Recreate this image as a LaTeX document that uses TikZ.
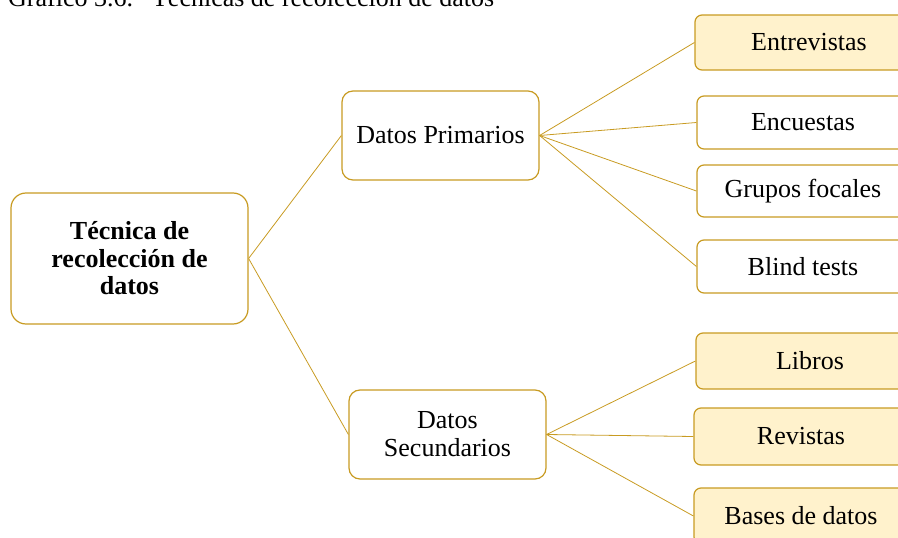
\documentclass[tikz,border=0pt]{standalone}
\usepackage{fontspec}
\setmainfont{Liberation Serif}
\usepackage{tikz}
\definecolor{GOLD}{HTML}{C89B22}
\definecolor{CREAM}{HTML}{FFF2CC}
\tikzstyle{rootbox} = [rectangle, rounded corners=15pt, minimum width=237pt, minimum height=131pt, text centered, align=center, draw=GOLD, line width=1.2pt, fill=white, font=\fontsize{26}{27.5}\selectfont\bfseries]
\tikzstyle{midbox} = [rectangle, rounded corners=11pt, minimum width=197pt, minimum height=89pt, text centered, align=center, draw=GOLD, line width=1.2pt, fill=white, font=\fontsize{26}{28}\selectfont]
\tikzstyle{leafbox} = [rectangle, rounded corners=7pt, minimum width=212pt, minimum height=53pt, text centered, draw=GOLD, line width=1.2pt, fill=white, font=\fontsize{26}{28}\selectfont]
\tikzstyle{leaffill} = [leafbox, fill=CREAM]
\tikzstyle{link} = [draw=GOLD, line width=0.8pt]
\begin{document}
\begin{tikzpicture}[x=1pt, y=-1pt, node distance=300pt]
\useasboundingbox (0,0) rectangle (898,538);
\clip (0,0) rectangle (898,538);

% caption, cut off at the top
\node (caption) [anchor=base west, inner sep=0pt, font=\fontsize{26}{28}\selectfont] at (8,6) {Gráfico 3.6.\hspace{19pt}Técnicas de recolección de datos};

\node (tec) [rootbox] at (129.5,258.5) {Técnica de\\recolección de\\datos};

\node (dat1) [midbox, right of=tec, xshift=11pt, yshift=123pt] {Datos Primarios};
\node (dat2) [midbox, right of=tec, xshift=18pt, yshift=-176pt] {Datos\\Secundarios};

% primary sources
\node (out1) [leaffill, minimum width=228pt, minimum height=55pt, right of=dat1, xshift=68.5pt, yshift=93pt] {Entrevistas};
\node (out2) [leafbox, right of=dat1, xshift=62.5pt, yshift=13pt] {Encuestas};
\node (out3) [leafbox, minimum height=52pt, right of=dat1, xshift=62.5pt, yshift=-55.5pt] {Grupos focales};
\node (out4) [leafbox, right of=dat1, xshift=62.5pt, yshift=-131pt] {Blind tests};

% secondary sources
\node (out5) [leaffill, minimum width=228pt, minimum height=56pt, right of=dat2, xshift=62.5pt, yshift=73.5pt] {Libros};
\node (out6) [leaffill, minimum width=214pt, minimum height=57pt, right of=dat2, xshift=53.5pt, yshift=-2pt] {Revistas};
\node (out7) [leaffill, minimum width=214pt, minimum height=56pt, right of=dat2, xshift=53.5pt, yshift=-81.5pt] {Bases de datos};

\draw [link] (tec.east) -- (dat1.west);
\draw [link] (tec.east) -- (dat2.west);

\draw [link] (dat1.east) -- (out1.west);
\draw [link] (dat1.east) -- (out2.west);
\draw [link] (dat1.east) -- (out3.west);
\draw [link] (dat1.east) -- (out4.west);

\draw [link] (dat2.east) -- (out5.west);
\draw [link] (dat2.east) -- (out6.west);
\draw [link] (dat2.east) -- (out7.west);

\end{tikzpicture}
\end{document}
